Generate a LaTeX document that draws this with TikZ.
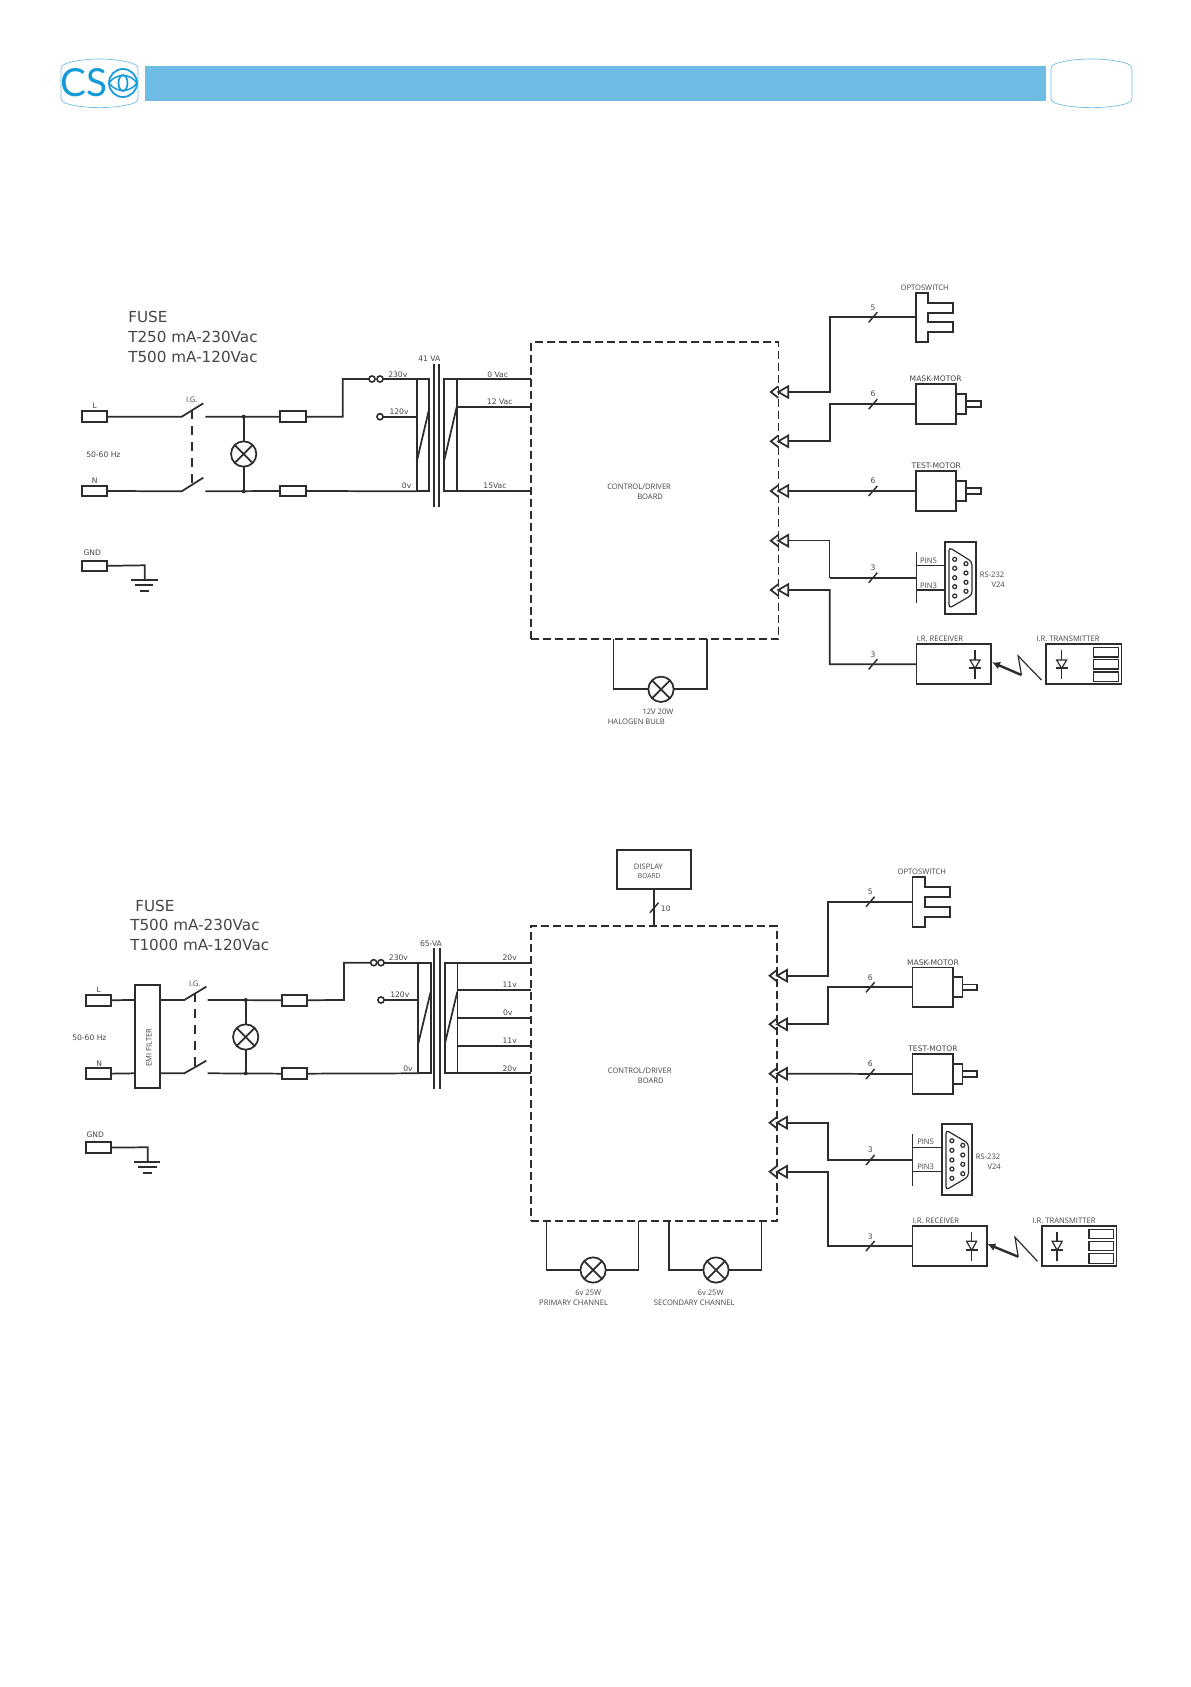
\documentclass[tikz,border=0pt]{standalone}
\usepackage{fontspec}
\setmainfont{DejaVu Sans}
\newfontfamily\narrowf{Open Sans}
\newfontfamily\logof{Lato}
\usetikzlibrary{arrows.meta}
\definecolor{barblue}{RGB}{110,187,228}
\definecolor{logoblue}{RGB}{20,155,215}
\definecolor{ink}{RGB}{45,45,45}
\definecolor{txt}{RGB}{70,70,70}
\newcounter{tc}
\tikzset{
  wire/.style={draw=ink,line width=1.3pt,line join=miter},
  thinw/.style={draw=ink,line width=0.9pt},
  cbox/.style={draw=ink,line width=1.3pt,inner sep=0pt,outer sep=0pt,fill=white},
  board/.style={draw=ink,line width=1.3pt,inner sep=0pt,outer sep=0pt,dash pattern=on 6pt off 3pt},
  link/.style={draw=ink,line width=1.3pt,dash pattern=on 7pt off 5pt},
  lampn/.style={circle,draw=ink,line width=1.3pt,inner sep=0pt,outer sep=0pt,minimum size=19pt},
  term/.style={circle,draw=ink,line width=1.2pt,fill=white,inner sep=0pt,outer sep=0pt,minimum size=4.6pt},
  lab/.style={inner sep=0pt,text=txt,font=\fontsize{5.7pt}{6pt}\selectfont},
  nlab/.style={inner sep=0pt,text=txt,font=\fontsize{5.7pt}{6pt}\narrowf},
  big/.style={inner sep=0pt,text=txt,anchor=base west,font=\fontsize{11.4pt}{13pt}\selectfont},
  dot/.style={circle,fill=ink,inner sep=0pt,minimum size=3pt},
}
\newcommand{\bx}[6][]{\node[cbox,#1,minimum width={((#5)-(#3))*0.75pt},minimum height={((#6)-(#4))*0.75pt}] (#2) at ({((#3)+(#5))/2},{((#4)+(#6))/2}) {};}
\newcommand{\tl}[4][]{\stepcounter{tc}\node[lab,#1] (txt\thetc) at (#2,#3) {#4};}
\newcommand{\nl}[4][]{\stepcounter{tc}\node[nlab,#1] (txt\thetc) at (#2,#3) {#4};}
\newcommand{\bg}[3]{\stepcounter{tc}\node[big] (txt\thetc) at (#1,#2) {#3};}
\newcommand{\lampm}[3]{\node[lampn] (#1) at (#2,#3) {};\draw[wire] (#1.45)--(#1.225) (#1.135)--(#1.315);}
\newcommand{\dblarrow}[3]{\coordinate (#1) at ({#2+10},#3);
  \draw[wire,fill=white] (#2,#3) -- ({#2+10},{#3-5.8}) -- ({#2+10},{#3+5.8}) -- cycle;
  \draw[wire] (#2,{#3-5.8}) -- ({#2-7.5},#3) -- (#2,{#3+5.8});}
\newcommand{\tickm}[2]{\draw[thinw,line width=1.1pt] ({#1-4.3},{#2+5}) -- ({#1+4.3},{#2-5});}
\newcommand{\diodem}[5]{\draw[wire] (#1,#2) -- (#1,#5);
  \draw[thinw,fill=white] ({#1-5},#3) -- ({#1+5},#3) -- (#1,#4) -- cycle;
  \draw[wire] ({#1-6},#4) -- ({#1+6},#4);}
\newcommand{\motorm}[6]{\bx{#1}{#2}{#6-19.8}{#3}{#6+19.8}
  \draw[wire] (#3,{#6-10}) -- (#4,{#6-10}) -- (#4,{#6+10}) -- (#3,{#6+10});
  \draw[wire] (#4,{#6-2.9}) -- (#5,{#6-2.9}) -- (#5,{#6+2.9}) -- (#4,{#6+2.9});}
\begin{document}
\begin{tikzpicture}[x=0.75pt,y=-0.75pt]
\useasboundingbox (0,0) rectangle (1191,1687);
\fill[white] (0,0) rectangle (1191,1687);
% ---------- header
\fill[barblue] (144.5,66) rectangle (1046,101);
\draw[barblue,line width=0.5pt] (61,70) .. controls (61,66) and (63,64.5) .. (66,63.5) .. controls (85,57.5) and (114,57.5) .. (133,63.5) .. controls (136,64.5) and (138,66) .. (138,70) -- (138,97) .. controls (138,101) and (136,102.5) .. (133,103.5) .. controls (114,109) and (85,109) .. (66,103.5) .. controls (63,102.5) and (61,101) .. (61,97) -- cycle;
\draw[barblue,line width=0.5pt] (1051,70) .. controls (1051,66) and (1053,64.5) .. (1056,63.5) .. controls (1075,57.5) and (1108,57.5) .. (1127,63.5) .. controls (1130,64.5) and (1132,66) .. (1132,70) -- (1132,97) .. controls (1132,101) and (1130,102.5) .. (1127,103.5) .. controls (1108,109) and (1075,109) .. (1056,103.5) .. controls (1053,102.5) and (1051,101) .. (1051,97) -- cycle;
\node[inner sep=0pt,anchor=base west,text=logoblue,font=\fontsize{29pt}{30pt}\logof] (logotxt) at (60.5,97) {CS};
\draw[logoblue,line width=1.3pt] (123,83) circle [radius=14];
\draw[logoblue,line width=1.1pt] (109,83) .. controls (116,73) and (130,73) .. (137,83) .. controls (130,93) and (116,93) .. (109,83) -- cycle;
\draw[logoblue,line width=1.3pt] (123,83) circle [x radius=4.5,y radius=8];
% ================= SECTION 1
\bg{128}{322}{FUSE}\bg{128}{342}{T250 mA-230Vac}\bg{128}{362}{T500 mA-120Vac}
\node[board,minimum width={247.3*0.75pt},minimum height={297*0.75pt}] (b1) at (654.9,490.8) {};
\bx{L1}{81.7}{411}{107.3}{422.3}
\bx{N1}{81.7}{485.7}{107.3}{496.3}
\bx{G1}{81.7}{560.7}{107.3}{571}
\tl{94.7}{406}{L}\tl{94.7}{481}{N}\tl{92.3}{552.7}{GND}
\tl[anchor=west]{86}{454.3}{50-60 Hz}
\nl{191.7}{400}{I.G.}
\coordinate (s1a) at (181.7,416.7);\coordinate (s1b) at (203.3,403.3);\coordinate (s1c) at (205.3,416.7);
\coordinate (s1d) at (181.7,491.3);\coordinate (s1e) at (203.3,477.7);\coordinate (s1f) at (205.3,491.3);
\draw[wire] (L1.east) -- (s1a) -- (s1b);
\draw[wire] (N1.east) -- (s1d) -- (s1e);
\draw[link] (192.3,410) -- (192.3,485);
\bx{F1a}{280}{411}{306}{422.3}
\bx{F1b}{280}{485.7}{306}{496.3}
\draw[wire] (s1c) -- (F1a.west);
\draw[wire] (s1f) -- (F1b.west);
\lampm{lp1}{243.7}{454}
\coordinate (j1a) at (243.7,416.7);\coordinate (j1b) at (243.7,491.3);
\draw[wire] (j1a) -- (lp1) (lp1) -- (j1b);
\node[dot] (d1a) at (j1a) {};\node[dot] (d1b) at (j1b) {};
\coordinate (p1a) at (416.7,379);\coordinate (p1b) at (429.3,379);\coordinate (p1c) at (429.3,491.3);\coordinate (p1d) at (416.7,491.3);
\node[term] (t1a) at (372,379) {};\node[term] (t1b) at (380,379) {};\node[term] (t1c) at (380,416.7) {};
\draw[wire] (F1a.east) -- (342.7,416.7) -- (342.7,379) -- (t1a.west);
\draw[wire] (t1b.east) -- (p1a);
\draw[wire] (t1c.east) -- (416.7,416.7);
\draw[wire] (F1b.east) -- (p1d);
\draw[wire] (p1a) -- (p1b) -- (p1c) -- (p1d) -- cycle;
\draw[wire] (429.3,408.3) -- (416.7,461.7);
\draw[wire] (434,364) -- (434,506.7) (439.3,364) -- (439.3,506.7);
\tl{429.3}{359}{41 VA}
\draw[wire] (444.3,379) rectangle (456.7,491.3);
\draw[wire] (456.7,407) -- (444.3,460);
\draw[wire] (456.7,379) -- (b1.west |- 0,379);
\draw[wire] (456.7,407) -- (b1.west |- 0,407);
\draw[wire] (456.7,491.3) -- (b1.west |- 0,491.3);
\tl[anchor=west]{388}{374.3}{230v}\tl[anchor=west]{389.3}{411.3}{120v}\tl[anchor=west]{401.7}{485.7}{0v}
\tl{497.7}{374.3}{0 Vac}\tl{499.7}{402}{12 Vac}\tl{495}{486}{15Vac}
\draw[wire] (G1.east) -- (144.7,565.3) -- (144.7,580);
\draw[wire] (131,580) -- (157.7,580) (135,585.3) -- (153.3,585.3) (140,591) -- (149,591);
\nl[anchor=west]{607}{487}{CONTROL/DRIVER}\nl[anchor=west]{637}{497}{BOARD}
% arrows
\dblarrow{a1a}{778.3}{392}\dblarrow{a1b}{778.3}{441.3}\dblarrow{a1c}{778.3}{491}\dblarrow{a1d}{778.3}{540.7}\dblarrow{a1e}{778.3}{590}
% opto
\draw[cbox] (916,292.7) -- (928.3,292.7) -- (928.3,302.7) -- (953.3,302.7) -- (953.3,312.7) -- (928.3,312.7) -- (928.3,322.3) -- (953.3,322.3) -- (953.3,332.3) -- (928.3,332.3) -- (928.3,342.3) -- (916,342.3) -- cycle;
\coordinate (o1) at (916,317.3);
\draw[wire] (o1) -- (830,317.3) -- (830,392) -- (a1a);
\tickm{873}{317.3}\tl{873}{307.3}{5}
\nl{924.7}{287.3}{OPTOSWITCH}
% motors
\motorm{m1}{916}{955.7}{966.3}{980.7}{404.15}
\motorm{m2}{916}{955.7}{966.3}{980.7}{491}
\draw[wire] (m1.west) -- (830,404.15) -- (830,441.3) -- (a1b);
\draw[wire] (m2.west) -- (a1c);
\tickm{873}{404.15}\tl{873}{394}{6}
\tickm{873}{491}\tl{873}{480.7}{6}
\tl{935.7}{378.7}{MASK-MOTOR}\tl{936.3}{466}{TEST-MOTOR}
% RS232
\coordinate (r1) at (916.5,577.7);
\draw[thinw] (a1d) -- (829.8,540.7);
\draw[thinw] (829.8,540.7) -- (829.8,577.7);
\draw[wire] (829.8,577.7) -- (r1);
\draw[wire] (916.5,552.3) -- (916.5,603.3);
\tickm{873}{577.7}\tl{873}{567.7}{3}
\bx{c1}{945}{541.7}{976}{613.7}
\draw[thinw] (916.5,565.7) -- (c1.west |- 0,565.7) (916.5,590) -- (c1.west |- 0,590);
\nl[anchor=west]{919.8}{560.7}{PIN5}\nl[anchor=west]{919.8}{585.3}{PIN3}
\draw[thinw,rounded corners=2.5pt] (949,547.3) -- (972,561.7) -- (972,595) -- (949,608.3) -- cycle;
\foreach \yy in {559.3,568.3,577.7,586.7,596} \draw[thinw] (954.7,\yy) circle [radius=2];
\foreach \yy in {563.7,573,582.3,591.3} \draw[thinw] (966,\yy) circle [radius=2];
\nl[anchor=west]{979.6}{575}{RS-232}\nl[anchor=east]{1005}{585}{V24}
% IR
\bx{rx1}{916.5}{644.3}{991}{684}
\bx{tx1}{1046.3}{644.3}{1121.4}{684}
\draw[wire] (rx1.west) -- (829.8,664.3) -- (829.8,590) -- (a1e);
\tickm{873}{664.3}\tl{873}{654.7}{3}
\nl[anchor=west]{916.5}{639}{I.R. RECEIVER}\nl[anchor=west]{1036.3}{639}{I.R. TRANSMITTER}
\diodem{975}{650}{660}{668.3}{679.3}
\diodem{1061.6}{650}{660}{668.3}{679.3}
\draw[thinw] (1093.7,647.7) rectangle (1118.6,657) (1093.7,659.7) rectangle (1118.6,669) (1093.7,672) rectangle (1118.6,681.7);
\draw[thinw] (1041.5,680) -- (1018.2,656) -- (1021.4,675);
\draw[wire,line width=1.8pt,-{Latex[length=6pt,width=6pt]}] (1021.4,675) -- (992,662.3);
% halogen
\lampm{lp2}{661}{689.3}
\draw[wire] (613.6,639.3) -- (613.6,689.3) -- (lp2.west);
\draw[wire] (706.8,639.3) -- (706.8,689.3) -- (lp2.east);
\nl{658}{712}{12V 20W}\nl[anchor=west]{607.6}{722}{HALOGEN BULB}
% ================= SECTION 2
\bg{135}{911}{FUSE}\bg{130}{930}{T500 mA-230Vac}\bg{130}{950}{T1000 mA-120Vac}
\node[board,minimum width={245.8*0.75pt},minimum height={294.4*0.75pt}] (b2) at (654.2,1073.5) {};
\bx{L2}{85.7}{994.7}{110.7}{1005.7}
\bx{N2}{85.7}{1068.3}{110.7}{1079}
\bx{G2}{85.7}{1142.3}{110.7}{1152.7}
\bx{emi}{135}{984.7}{159.7}{1088.3}
\nl[rotate=90]{149}{1047.7}{EMI FILTER}
\tl{98.7}{989.7}{L}\tl{99.3}{1063.3}{N}\tl{95.3}{1135}{GND}
\tl[anchor=west]{72}{1037.3}{50-60 Hz}
\nl{194.7}{983.7}{I.G.}
\draw[wire] (L2.east) -- (emi.west |- 0,1000);
\draw[wire] (N2.east) -- (emi.west |- 0,1073.3);
\coordinate (s2a) at (184.3,1000);\coordinate (s2b) at (206.3,986.7);\coordinate (s2c) at (207.7,1000);
\coordinate (s2d) at (184.3,1073.3);\coordinate (s2e) at (206.3,1060.7);\coordinate (s2f) at (207.7,1073.3);
\draw[wire] (emi.east |- 0,1000) -- (s2a) -- (s2b);
\draw[wire] (emi.east |- 0,1073.3) -- (s2d) -- (s2e);
\draw[link] (195,993) -- (195,1068.3);
\bx{F2a}{282.3}{994.7}{307.3}{1005.7}
\bx{F2b}{282.3}{1068.3}{307.3}{1079}
\draw[wire] (s2c) -- (F2a.west);
\draw[wire] (s2f) -- (F2b.west);
\lampm{lp3}{245.7}{1037}
\coordinate (j2a) at (245.7,1000);\coordinate (j2b) at (245.7,1073.3);
\draw[wire] (j2a) -- (lp3) (lp3) -- (j2b);
\node[dot] (d2a) at (j2a) {};\node[dot] (d2b) at (j2b) {};
\node[term] (t2a) at (373.7,962.7) {};\node[term] (t2b) at (381,962.7) {};\node[term] (t2c) at (381,1000) {};
\coordinate (p2a) at (418.3,962.7);
\draw[wire] (F2a.east) -- (344,1000) -- (344,962.7) -- (t2a.west);
\draw[wire] (t2b.east) -- (p2a);
\draw[wire] (t2c.east) -- (418.3,1000);
\draw[wire] (F2b.east) -- (418.3,1073.3);
\draw[wire] (418.3,962.7) rectangle (430.7,1073.3);
\draw[wire] (430.7,991.7) -- (418.3,1043.3);
\draw[wire] (434.3,948) -- (434.3,1089) (440,948) -- (440,1089);
\tl{431}{943.3}{65-VA}
\draw[wire] (457.3,962.7) -- (445,962.7) -- (445,1073.3) -- (457.3,1073.3);
\draw[thinw] (457.3,962.7) -- (457.3,1073.3);
\draw[wire] (457.3,991.7) -- (445,1043.3);
\foreach \yy in {962.7,990.3,1018,1045.7,1073.3} \draw[wire] (457.3,\yy) -- (b2.west |- 0,\yy);
\tl[anchor=west]{388.7}{957.3}{230v}\tl[anchor=west]{390}{995}{120v}\tl[anchor=west]{403}{1068.3}{0v}
\tl{509.7}{957.3}{20v}\tl{509.7}{985}{11v}\tl{507.7}{1013}{0v}\tl{509.7}{1040.3}{11v}\tl{509.7}{1068.3}{20v}
\draw[wire] (G2.east) -- (147.7,1147.3) -- (147.7,1162.3);
\draw[wire] (134.3,1162.3) -- (160.3,1162.3) (138.3,1167.3) -- (156.7,1167.3) (143.3,1173.3) -- (152,1173.3);
\nl[anchor=west]{607.6}{1070.7}{CONTROL/DRIVER}\nl[anchor=west]{637.7}{1081}{BOARD}
% display
\bx{disp}{616.8}{850}{690.8}{889.3}
\nl[anchor=west]{633.7}{866.7}{DISPLAY}\nl[anchor=west,font=\fontsize{5pt}{6pt}\narrowf]{637.7}{876}{BOARD}
\draw[wire] (disp.south -| 654.2,0) -- (b2.north -| 654.2,0);
\tickm{654.2}{907.7}\tl{665.8}{908.3}{10}
% arrows
\dblarrow{a2a}{777.1}{975.7}\dblarrow{a2b}{777.1}{1024.3}\dblarrow{a2c}{777.1}{1073.7}\dblarrow{a2d}{777.1}{1122.7}\dblarrow{a2e}{777.1}{1171.7}
% opto
\draw[cbox] (912.5,876.7) -- (925,876.7) -- (925,886.7) -- (949.9,886.7) -- (949.9,896.7) -- (925,896.7) -- (925,906.7) -- (949.9,906.7) -- (949.9,916.7) -- (925,916.7) -- (925,926.7) -- (912.5,926.7) -- cycle;
\coordinate (o2) at (912.5,901.7);
\draw[wire] (o2) -- (828.2,901.7) -- (828.2,975.7) -- (a2a);
\tickm{870.3}{901.7}\tl{870.3}{891.7}{5}
\nl{921.8}{872}{OPTOSWITCH}
\motorm{m3}{912.5}{952.7}{962.4}{977.2}{987.3}
\motorm{m4}{912.5}{952.7}{962.4}{977.2}{1074}
\draw[wire] (m3.west) -- (828.2,987.3) -- (828.2,1024.3) -- (a2b);
\draw[wire] (m4.west) -- (a2c);
\tickm{870.3}{987.3}\tl{870.3}{978}{6}
\tickm{870.3}{1074}\tl{870.3}{1063.3}{6}
\tl{933}{962.3}{MASK-MOTOR}\tl{933}{1049}{TEST-MOTOR}
% RS232
\draw[wire] (a2d) -- (828.2,1122.7) -- (828.2,1160) -- (912.5,1160);
\draw[wire] (912.5,1134.3) -- (912.5,1185.7);
\tickm{870.3}{1160}\tl{870.3}{1150}{3}
\bx{c2}{941.9}{1124.3}{972}{1195.3}
\draw[thinw] (912.5,1147.3) -- (c2.west |- 0,1147.3) (912.5,1171.7) -- (c2.west |- 0,1171.7);
\nl[anchor=west]{917}{1142.3}{PIN5}\nl[anchor=west]{917}{1167}{PIN3}
\draw[thinw,rounded corners=2.5pt] (945.9,1130) -- (968.4,1143.3) -- (968.4,1176.7) -- (945.9,1190) -- cycle;
\foreach \yy in {1140.7,1150.3,1160,1169,1178.3} \draw[thinw] (951.9,\yy) circle [radius=2];
\foreach \yy in {1145.3,1155,1164.3,1173.7} \draw[thinw] (962.8,\yy) circle [radius=2];
\nl[anchor=west]{975.6}{1157}{RS-232}\nl[anchor=east]{1001}{1166.7}{V24}
% IR
\bx{rx2}{912.5}{1226}{986.9}{1266}
\bx{tx2}{1042.3}{1226}{1116.6}{1266}
\draw[wire] (rx2.west) -- (828.2,1246) -- (828.2,1171.7) -- (a2e);
\tickm{870.3}{1246}\tl{870.3}{1236.3}{3}
\nl[anchor=west]{912.5}{1220.7}{I.R. RECEIVER}\nl[anchor=west]{1032.3}{1220.7}{I.R. TRANSMITTER}
\diodem{971.6}{1231.7}{1241.3}{1250.3}{1260.7}
\diodem{1057.2}{1231.7}{1241.3}{1250.3}{1260.7}
\draw[thinw] (1088.9,1229.3) rectangle (1113.8,1238.7) (1088.9,1241.3) rectangle (1113.8,1250.7) (1088.9,1253.7) rectangle (1113.8,1263.3);
\draw[thinw] (1037.5,1261.3) -- (1015,1237.3) -- (1018.2,1256.7);
\draw[wire,line width=1.8pt,-{Latex[length=6pt,width=6pt]}] (1018.2,1256.7) -- (987.3,1244);
% lamps
\lampm{lp4}{593.1}{1270}
\lampm{lp5}{716}{1270}
\draw[wire] (546.5,1220.7) -- (546.5,1270) -- (lp4.west) (638.5,1220.7) -- (638.5,1270) -- (lp4.east);
\draw[wire] (669,1220.7) -- (669,1270) -- (lp5.west) (761.5,1220.7) -- (761.5,1270) -- (lp5.east);
\nl{588.2}{1293}{6v 25W}\nl{710.6}{1293}{6v 25W}
\nl{573.6}{1302.7}{PRIMARY CHANNEL}\nl{694.3}{1302.7}{SECONDARY CHANNEL}
\end{tikzpicture}
\end{document}
